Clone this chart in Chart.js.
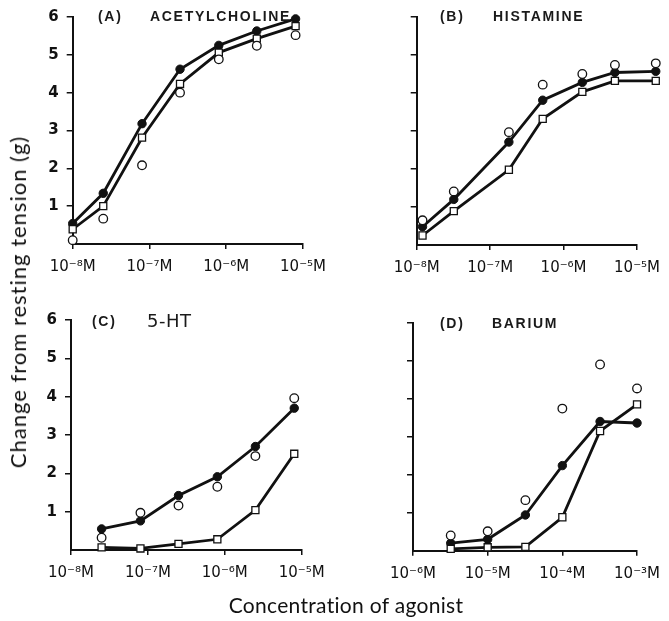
<!DOCTYPE html>
<html>
<head>
<meta charset="utf-8">
<script src="https://cdn.jsdelivr.net/npm/chart.js@4"></script>
<style>
  body { margin: 0; background: #fff; }
  #wrap { position: relative; width: 669px; height: 621px; overflow: hidden; background: #fff; }
  canvas { position: absolute; }
  .ttl { position: absolute; font-family: "Liberation Sans", sans-serif; font-size: 14px; font-weight: bold; letter-spacing: 1.7px; color: #1a1a1a; white-space: nowrap; line-height: 14px; }
  .big { font-family: "DejaVu Sans", sans-serif; font-weight: normal; font-size: 18px; letter-spacing: 0.5px; line-height: 20px; }
  .axt { position: absolute; font-family: "Lato", sans-serif; color: #111; white-space: nowrap; line-height: 22px; }
</style>
</head>
<body>
<div id="wrap">
  <canvas id="pA" width="335" height="290" style="left:0;top:0"></canvas>
  <canvas id="pB" width="334" height="290" style="left:335px;top:0"></canvas>
  <canvas id="pC" width="335" height="300" style="left:0;top:300px"></canvas>
  <canvas id="pD" width="334" height="300" style="left:335px;top:300px"></canvas>

  <div class="ttl" style="left:98px;top:9px">(A)</div>
  <div class="ttl" style="left:150px;top:9px">ACETYLCHOLINE</div>
  <div class="ttl" style="left:440px;top:9px">(B)</div>
  <div class="ttl" style="left:493px;top:9px">HISTAMINE</div>
  <div class="ttl" style="left:92px;top:314px">(C)</div>
  <div class="ttl big" style="left:147px;top:311px">5-HT</div>
  <div class="ttl" style="left:440px;top:316px">(D)</div>
  <div class="ttl" style="left:492px;top:316px">BARIUM</div>

  <div class="axt" style="left:18px;top:302px;font-size:22px;letter-spacing:1px;transform:translate(-50%,-50%) rotate(-90deg)">Change from resting tension (g)</div>
  <div class="axt" style="left:346px;top:605px;font-size:21px;letter-spacing:0.3px;transform:translate(-50%,-50%)">Concentration of agonist</div>
</div>
<script>
// tick values
var yTicks = [0, 1, 2, 3, 4, 5, 6];
var decades8 = [1e-8, 1e-7, 1e-6, 1e-5];
var decades6 = [1e-6, 1e-5, 1e-4, 1e-3];

// (A) acetylcholine
var achConc = [1e-8, 2.5e-8, 8e-8, 2.5e-7, 8e-7, 2.5e-6, 8e-6];
var achFilled = [0.54, 1.34, 3.18, 4.62, 5.25, 5.63, 5.95];
var achSquare = [0.39, 1.0, 2.81, 4.23, 5.06, 5.43, 5.76];
var achCircle = [0.1, 0.67, 2.08, 4.0, 4.88, 5.24, 5.52];

// (B) histamine
var hisConc = [1.2e-8, 3.2e-8, 1.8e-7, 5.2e-7, 1.8e-6, 5e-6, 1.8e-5];
var hisFilled = [0.48, 1.2, 2.71, 3.81, 4.28, 4.54, 4.57];
var hisSquare = [0.25, 0.89, 1.98, 3.32, 4.03, 4.32, 4.32];
var hisCircle = [0.65, 1.41, 2.97, 4.22, 4.5, 4.74, 4.78];

// (C) 5-HT
var htConc = [2.5e-8, 8e-8, 2.5e-7, 8e-7, 2.5e-6, 8e-6];
var htFilled = [0.55, 0.76, 1.42, 1.91, 2.7, 3.7];
var htSquare = [0.07, 0.04, 0.16, 0.28, 1.04, 2.51];
var htCircle = [0.32, 0.97, 1.16, 1.65, 2.45, 3.96];

// (D) barium
var baConc = [3.2e-6, 1e-5, 3.2e-5, 1e-4, 3.2e-4, 1e-3];
var baFilled = [0.2, 0.3, 0.94, 2.24, 3.4, 3.36];
var baSquare = [0.05, 0.09, 0.1, 0.88, 3.15, 3.85];
var baCircle = [0.4, 0.51, 1.33, 3.74, 4.9, 4.27];

var INK = "#111";
var SUP = { "0": "⁰", "1": "¹", "2": "²", "3": "³", "4": "⁴", "5": "⁵", "6": "⁶", "7": "⁷", "8": "⁸", "9": "⁹", "-": "⁻" };

function concLabel(v) {
    var e = String(Math.round(Math.log10(v)));
    var s = "";
    for (var i = 0; i < e.length; i++) s += SUP[e[i]];
    return "10" + s + "M";
}

function pairs(xs, ys) {
    return xs.map(function(x, i) { return { x: x, y: ys[i] }; });
}

// points past the axis end (histamine 1.8e-5) must still be drawn
var wideMarks = {
    id: "wideMarks",
    beforeDatasetsDraw: function(chart) {
        chart._realArea = chart.chartArea;
        chart.chartArea = { left: 0, top: 0, right: chart.width, bottom: chart.height, width: chart.width, height: chart.height };
    },
    afterDatasetsDraw: function(chart) {
        chart.chartArea = chart._realArea;
    }
};

// box = canvas position on page, area = wanted chart area on page
function panel(id, box, area, decades, showY, conc, filled, square, circle) {
    var yW = area.left - box.left;
    var xH = box.top + box.height - area.bottom;
    return new Chart(document.getElementById(id), {
        type: "line",
        data: {
            datasets: [
                { data: pairs(conc, filled), borderColor: INK, borderWidth: 2.8, tension: 0,
                  pointRadius: 4.2, pointBackgroundColor: INK, pointBorderColor: INK, pointBorderWidth: 1,
                  clip: false, order: 3 },
                { data: pairs(conc, square), borderColor: INK, borderWidth: 2.8, tension: 0,
                  pointStyle: "rect", pointRadius: 5, pointBackgroundColor: "#fff", pointBorderColor: INK,
                  pointBorderWidth: 1.3, clip: false, order: 2 },
                { data: pairs(conc, circle), showLine: false,
                  pointRadius: 4.3, pointBackgroundColor: "#fff", pointBorderColor: INK,
                  pointBorderWidth: 1.3, clip: false, order: 1 }
            ]
        },
        options: {
            responsive: false,
            animation: false,
            devicePixelRatio: 1,
            layout: { padding: { left: 0, top: area.top - box.top, right: box.left + box.width - area.right, bottom: 0 } },
            plugins: { legend: { display: false }, tooltip: { enabled: false } },
            scales: {
                x: {
                    type: "logarithmic",
                    min: decades[0],
                    max: decades[decades.length - 1],
                    afterBuildTicks: function(s) { s.ticks = decades.map(function(v) { return { value: v }; }); },
                    afterFit: function(s) { s.height = xH; },
                    ticks: { callback: function(v) { return concLabel(v); }, autoSkip: false, maxRotation: 0,
                             font: { family: "DejaVu Sans", size: 15 }, color: INK, padding: 9 },
                    grid: { drawOnChartArea: false, drawTicks: true, tickLength: 5, color: INK, lineWidth: 1.5 },
                    border: { display: true, color: INK, width: 2 }
                },
                y: {
                    min: 0,
                    max: 6,
                    afterBuildTicks: function(s) { s.ticks = yTicks.map(function(v) { return { value: v }; }); },
                    afterFit: function(s) { s.width = yW; },
                    ticks: { callback: function(v) { return showY && v > 0 ? String(v) : ""; },
                             font: { family: "DejaVu Sans", size: 15, weight: "bold" }, color: INK, padding: 8 },
                    grid: { drawOnChartArea: false, drawTicks: true, tickLength: 6, lineWidth: 1.5,
                            color: function(c) { return c.tick && c.tick.value === 0 ? "rgba(0,0,0,0)" : INK; } },
                    border: { display: true, color: INK, width: 2 }
                }
            }
        },
        plugins: [wideMarks]
    });
}

panel("pA", { left: 0, top: 0, width: 335, height: 290 }, { left: 72.7, top: 14, right: 304.6, bottom: 244 },
      decades8, true, achConc, achFilled, achSquare, achCircle);
panel("pB", { left: 335, top: 0, width: 334, height: 290 }, { left: 416.7, top: 15, right: 644.3, bottom: 245 },
      decades8, false, hisConc, hisFilled, hisSquare, hisCircle);
panel("pC", { left: 0, top: 300, width: 335, height: 300 }, { left: 71, top: 320, right: 301.7, bottom: 550 },
      decades8, true, htConc, htFilled, htSquare, htCircle);
panel("pD", { left: 335, top: 300, width: 334, height: 300 }, { left: 413, top: 322.7, right: 644, bottom: 550.7 },
      decades6, false, baConc, baFilled, baSquare, baCircle);
</script>
</body>
</html>
